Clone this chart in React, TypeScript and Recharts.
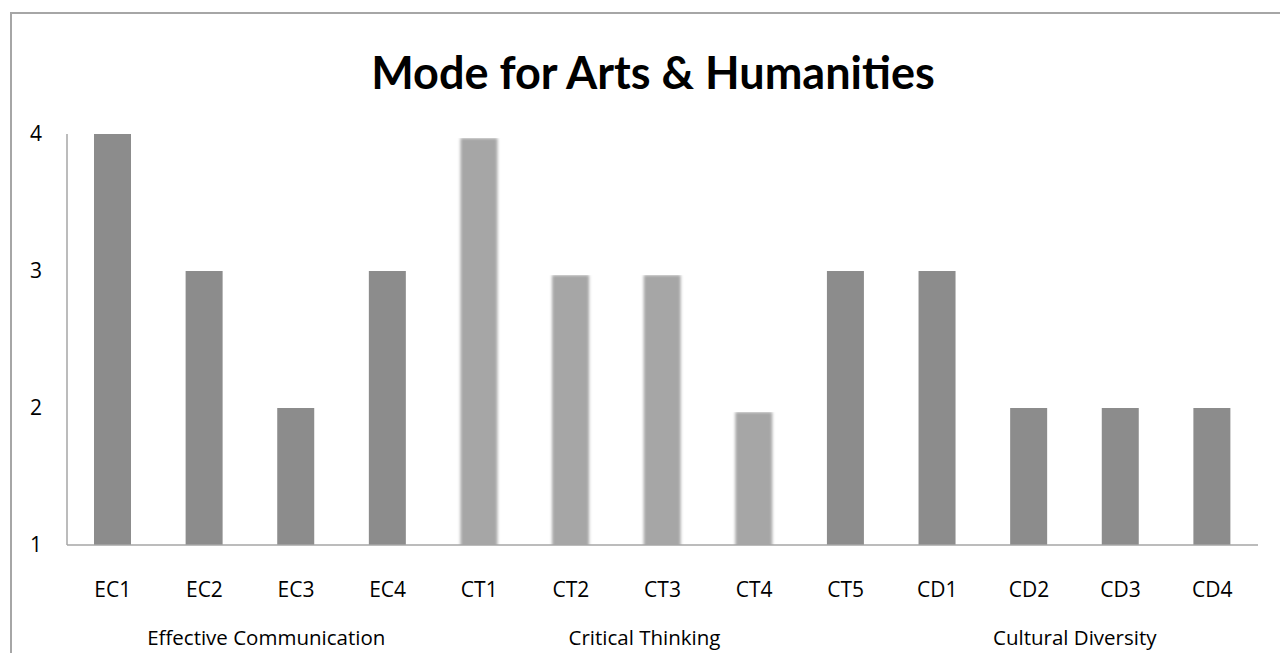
import React from 'react'
import { BarChart, Bar, XAxis, YAxis, Cell } from 'recharts'

const categories = ['EC1', 'EC2', 'EC3', 'EC4', 'CT1', 'CT2', 'CT3', 'CT4', 'CT5', 'CD1', 'CD2', 'CD3', 'CD4']
const modeValues = [4, 3, 2, 3, 4, 3, 3, 2, 3, 3, 2, 2, 2]
const faded = [false, false, false, false, true, true, true, true, false, false, false, false, false]
const yTicks = [1, 2, 3, 4]

const groupNames = ['Effective Communication', 'Critical Thinking', 'Cultural Diversity']
const groupStarts = [0, 4, 9]
const groupSizes = [4, 5, 4]

const TITLE_FONT = 'Lato, "Open Sans", sans-serif'
const FONT = '"Open Sans", Lato, sans-serif'
const W = 1268
const H = 641
const LEFT = 55
const RIGHT = 22
const BAND = (W - LEFT - RIGHT) / categories.length
// the original's group labels don't sit exactly on group centers
const groupNudge = [16, -18, 0]

const data = categories.map((c, i) => ({ name: c, value: modeValues[i] }))

const CatTick = ({ x, y, payload }: any) => {
  const i = payload.index
  const g = groupStarts.indexOf(i)
  return (
    <g>
      <text x={x} y={y + 29} dy="0.71em" textAnchor="middle" fontSize={21} fill="#000" fontFamily={FONT}>
        {payload.value}
      </text>
      {g >= 0 && (
        <text
          x={x + ((groupSizes[g] - 1) / 2) * BAND + groupNudge[g]}
          y={y + 77}
          dy="0.71em"
          textAnchor="middle"
          fontSize={20.5}
          fill="#000"
          fontFamily={FONT}
        >
          {groupNames[g]}
        </text>
      )}
    </g>
  )
}

export default function App() {
  return (
    <div
      style={{
        position: 'absolute',
        left: 10,
        top: 12,
        width: W,
        height: H,
        borderLeft: '2px solid #a6a6a6',
        borderTop: '2px solid #a6a6a6',
        background: '#fff',
      }}
    >
      <div
        style={{
          position: 'absolute',
          left: 0,
          width: 1282,
          top: 31,
          textAlign: 'center',
          fontFamily: TITLE_FONT,
          fontWeight: 700,
          fontSize: 45,
          color: '#000',
        }}
      >
        Mode for Arts &amp; Humanities
      </div>
      <BarChart
        width={W}
        height={H}
        data={data}
        margin={{ top: 120, right: RIGHT, bottom: 0, left: 0 }}
        barSize={37}
      >
        <defs>
          <filter id="soft" x="-20%" y="0%" width="140%" height="100%">
            <feGaussianBlur stdDeviation="1.8" />
            <feOffset dy="4" />
          </filter>
        </defs>
        <XAxis
          dataKey="name"
          height={110}
          interval={0}
          tickLine={false}
          axisLine={{ stroke: '#a6a6a6', strokeWidth: 1.5 }}
          tick={<CatTick />}
        />
        <YAxis
          width={LEFT}
          domain={[1, 4]}
          ticks={yTicks}
          allowDataOverflow
          tickLine={false}
          tickSize={0}
          tickMargin={25}
          axisLine={{ stroke: '#a6a6a6', strokeWidth: 1.5 }}
          tick={{ fontSize: 21, fill: '#000', fontFamily: FONT }}
        />
        <Bar dataKey="value" isAnimationActive={false}>
          {data.map((_, i) => (
            <Cell
              key={i}
              fill={faded[i] ? '#a6a6a6' : '#8c8c8c'}
              filter={faded[i] ? 'url(#soft)' : undefined}
            />
          ))}
        </Bar>
      </BarChart>
    </div>
  )
}
